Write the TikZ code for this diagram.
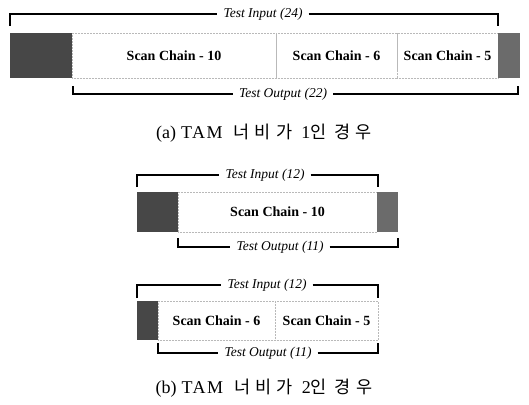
\documentclass[tikz,border=0pt]{standalone}
\usepackage{fontspec}
\setmainfont{Liberation Serif}
\newfontfamily\kr[LetterSpace=30]{Noto Sans CJK KR}
\newfontfamily\capserif[LetterSpace=8]{Liberation Serif}
\newcommand{\krw}[1]{{\fontsize{17.5}{19}\kr #1}}
\begin{document}
\begin{tikzpicture}[x=1pt,y=-1pt,
  chain/.style={draw=gray!55, densely dotted, line width=0.5pt, inner sep=0pt, outer sep=0pt,
    anchor=north west, font=\fontsize{14}{16}\selectfont\bfseries},
  darkblk/.style={fill=black!72, draw=none, inner sep=0pt, outer sep=0pt, anchor=north west},
  midblk/.style={fill=black!58, draw=none, inner sep=0pt, outer sep=0pt, anchor=north west},
  lab/.style={fill=white, inner xsep=6pt, inner ysep=1pt, font=\fontsize{13.5}{15}\selectfont\itshape},
  bracket/.style={draw=black, line width=1.3pt},
  captext/.style={font=\fontsize{18}{20}\selectfont}
]
\useasboundingbox (0,0) rectangle (529,404);

% ---------- (a) ----------
\node[darkblk, minimum width=62pt, minimum height=45pt] (al) at (10,33) {};
\node[chain, minimum width=204pt, minimum height=45pt] (a10) at (72,33) {Scan Chain - 10};
\node[chain, minimum width=121pt, minimum height=45pt] (a6) at (276,33) {Scan Chain - 6};
\node[chain, minimum width=101pt, minimum height=45pt] (a5) at (397,33) {Scan Chain - 5};
\node[midblk, minimum width=22pt, minimum height=45pt] (ar) at (498,33) {};

\coordinate (ail) at (10,26);
\coordinate (air) at (498,26);
\node[lab] (ai) at (263,14) {Test Input (24)};
\draw[bracket] (ail) |- (ai.west);
\draw[bracket] (ai.east) -| (air);

\coordinate (aol) at (73,86);
\coordinate (aor) at (518,86);
\node[lab] (ao) at (283,94) {Test Output (22)};
\draw[bracket] (aol) |- (ao.west);
\draw[bracket] (ao.east) -| (aor);

\node[captext] (capa) at (264,133) {(a)\hspace{5pt}{\capserif TAM}\hspace{11pt}\krw{너비가}\hspace{9pt}1\krw{인}\hspace{8pt}\krw{경우}};

% ---------- (b) top ----------
\node[darkblk, minimum width=41pt, minimum height=40pt] (bl) at (137,192) {};
\node[chain, minimum width=199pt, minimum height=40pt] (b10) at (178,192) {Scan Chain - 10};
\node[midblk, minimum width=21pt, minimum height=40pt] (br) at (377,192) {};

\coordinate (bil) at (137,187);
\coordinate (bir) at (378,187);
\node[lab] (bi) at (265,175) {Test Input (12)};
\draw[bracket] (bil) |- (bi.west);
\draw[bracket] (bi.east) -| (bir);

\coordinate (bol) at (178,238);
\coordinate (bor) at (398,238);
\node[lab] (bo) at (280,247) {Test Output (11)};
\draw[bracket] (bol) |- (bo.west);
\draw[bracket] (bo.east) -| (bor);

% ---------- (b) bottom ----------
\node[darkblk, minimum width=21pt, minimum height=39pt] (cl) at (137,301) {};
\node[chain, minimum width=117pt, minimum height=39pt] (c6) at (158,301) {Scan Chain - 6};
\node[chain, minimum width=103pt, minimum height=39pt] (c5) at (275,301) {Scan Chain - 5};

\coordinate (cil) at (137,298);
\coordinate (cir) at (378,298);
\node[lab] (ci) at (267,285) {Test Input (12)};
\draw[bracket] (cil) |- (ci.west);
\draw[bracket] (ci.east) -| (cir);

\coordinate (col) at (158,343);
\coordinate (cor) at (378,343);
\node[lab] (co) at (268,353) {Test Output (11)};
\draw[bracket] (col) |- (co.west);
\draw[bracket] (co.east) -| (cor);

\node[captext] (capb) at (264,388) {(b)\hspace{5pt}{\capserif TAM}\hspace{11pt}\krw{너비가}\hspace{9pt}2\krw{인}\hspace{8pt}\krw{경우}};
\end{tikzpicture}
\end{document}
